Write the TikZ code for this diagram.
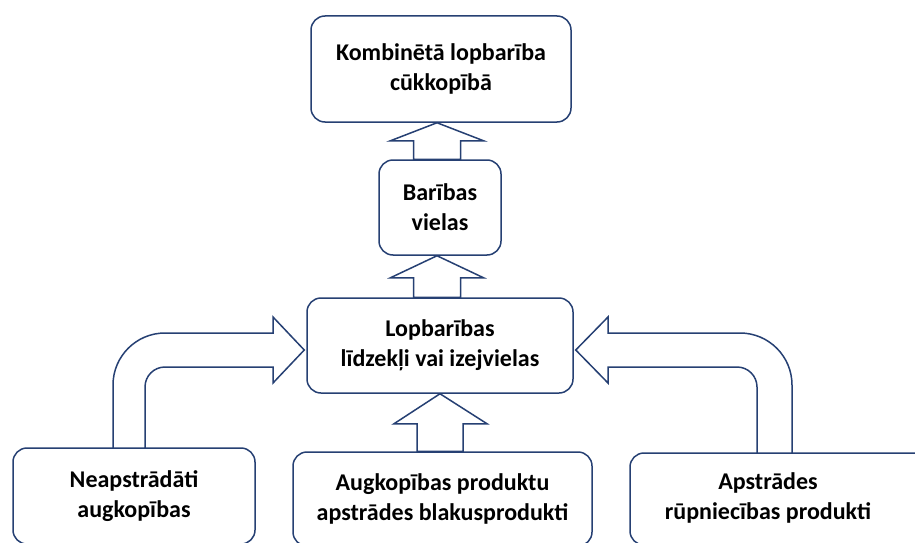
\documentclass[tikz,border=0pt]{standalone}
\usepackage{fontspec}
\setmainfont{Carlito}
\usetikzlibrary{calc}
\definecolor{navy}{RGB}{38,64,115}
\begin{document}
\begin{tikzpicture}[x=1pt,y=-1pt,
  box/.style={draw=navy,line width=1.5pt,fill=white,rounded corners=14pt,
    align=center,font=\fontsize{24}{30}\selectfont\bfseries,inner sep=0pt},
  blk/.style={draw=navy,line width=1.5pt,fill=white,line join=miter}]
\useasboundingbox (0,0) rectangle (915,543);
\clip (0,0) rectangle (915,543);
\fill[white] (0,0) rectangle (915,543);
% boxes
\node[box,minimum width=260pt,minimum height=106pt] (top) at (441,69) {Kombinētā lopbarība\\cūkkopībā};
\node[box,minimum width=122pt,minimum height=95pt] (bar) at (440,207.5) {Barības\\vielas};
\node[box,minimum width=266pt,minimum height=95pt] (lop) at (440,345.5) {Lopbarības\\līdzekļi vai izejvielas};
\node[box,minimum width=299pt,minimum height=94pt] (mid) at (442.5,499) {Augkopības produktu\\apstrādes blakusprodukti};
\node[box,minimum width=242pt,minimum height=96pt] (lft) at (134,496) {Neapstrādāti\\augkopības};
\draw[draw=navy,line width=1.5pt,fill=white,rounded corners=14pt] (630,453) rectangle (940,545);
\node[font=\fontsize{24}{30}\selectfont\bfseries,align=center,inner sep=0pt] (rgt) at (768,498) {Apstrādes\\rūpniecības produkti};
% straight block arrows
\coordinate (t1) at ($(top.south)+(-4,0)$);
\coordinate (b1) at (t1 |- bar.north);
\draw[blk] (t1) -- ($(t1)+(46.5,18)$) -- ($(t1)+(23.5,18)$) -- ($(b1)+(23.5,0)$) -- ($(b1)+(-23.5,0)$) -- ($(t1)+(-23.5,18)$) -- ($(t1)+(-46.5,18)$) -- cycle;
\coordinate (t2) at ($(bar.south)+(-3,0)$);
\coordinate (b2) at (t2 |- lop.north);
\draw[blk] (t2) -- ($(t2)+(46.5,22)$) -- ($(t2)+(23.5,22)$) -- ($(b2)+(23.5,0)$) -- ($(b2)+(-23.5,0)$) -- ($(t2)+(-23.5,22)$) -- ($(t2)+(-46.5,22)$) -- cycle;
\coordinate (t3) at (lop.south);
\coordinate (b3) at (t3 |- mid.north);
\draw[blk] (t3) -- ($(t3)+(47,30)$) -- ($(t3)+(23,30)$) -- ($(b3)+(23,0)$) -- ($(b3)+(-23,0)$) -- ($(t3)+(-23,30)$) -- ($(t3)+(-46,30)$) -- cycle;
% bent block arrows
\draw[blk] (113,448) -- (113,385) arc[start angle=180,end angle=270,radius=52]
  -- (273,333) -- (273,317) -- ($(lop.west)+(-2,4.5)$) -- (273,383) -- (273,367)
  -- (165,367) arc[start angle=270,end angle=180,radius=20] -- (145,448) -- cycle;
\draw[blk] (792,453) -- (792,385) arc[start angle=0,end angle=-90,radius=52]
  -- (608,333) -- (608,317) -- ($(lop.east)+(2,4.5)$) -- (608,383) -- (608,367)
  -- (737,367) arc[start angle=-90,end angle=0,radius=20] -- (757,453) -- cycle;
\end{tikzpicture}
\end{document}
